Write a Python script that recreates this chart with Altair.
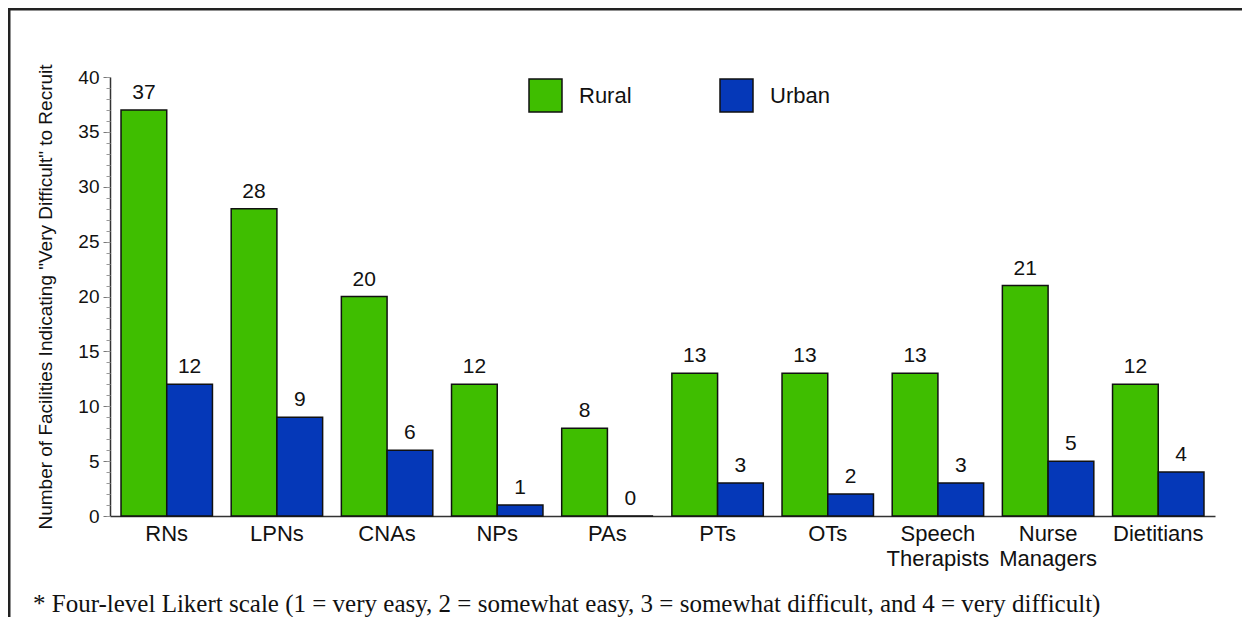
import altair as alt
import pandas as pd

categories = ["RNs", "LPNs", "CNAs", "NPs", "PAs", "PTs", "OTs",
              "Speech Therapists", "Nurse Managers", "Dietitians"]
rural = [37, 28, 20, 12, 8, 13, 13, 13, 21, 12]
urban = [12, 9, 6, 1, 0, 3, 2, 3, 5, 4]
groups = ["Rural", "Urban"]
colors = ["#3fbe00", "#0538b8"]
y_title = 'Number of Facilities Indicating "Very Difficult" to Recruit'
footnote = ("* Four-level Likert scale (1 = very easy, 2 = somewhat easy, "
            "3 = somewhat difficult, and 4 = very difficult)")

rows = []
for c, r, u in zip(categories, rural, urban):
    rows.append({"cat": c, "grp": "Rural", "value": r})
    rows.append({"cat": c, "grp": "Urban", "value": u})
df = pd.DataFrame(rows)

W, H = 1105, 439
FONT = "Liberation Sans"

x_enc = alt.X("cat:N", sort=categories, title=None,
              scale=alt.Scale(paddingInner=0.17, paddingOuter=0.1),
              axis=alt.Axis(labelExpr="split(datum.label, ' ')", labelAngle=0,
                            labelFontSize=22, labelFont=FONT, labelColor="#111",
                            labelLineHeight=25, labelPadding=7, ticks=False,
                            domainColor="#333", domainWidth=1.5))
xoff = alt.XOffset("grp:N", sort=groups)
y_scale = alt.Scale(domain=[0, 40], nice=False)

bars = alt.Chart(df).mark_bar(stroke="#111", strokeWidth=1.5).encode(
    x=x_enc, xOffset=xoff,
    y=alt.Y("value:Q", scale=y_scale, title=y_title,
            axis=alt.Axis(values=list(range(0, 41, 5)), tickSize=7,
                          tickColor="#777", domainColor="#333", domainWidth=1.5,
                          labelFontSize=19, labelFont=FONT, labelColor="#111",
                          labelPadding=4, grid=False, orient="left",
                          titleFont=FONT, titleFontSize=19, titleFontWeight="normal",
                          titleColor="#111", titleX=-65, titleY=H / 2,
                          titleAlign="center", titleBaseline="middle",
                          titleAngle=270)),
    color=alt.Color("grp:N", sort=groups, title=None,
                    scale=alt.Scale(domain=groups, range=colors),
                    legend=alt.Legend(orient="none", legendX=418, legendY=1,
                                      direction="horizontal", symbolType="square",
                                      symbolSize=1089, symbolStrokeColor="#111",
                                      symbolStrokeWidth=1.5, labelFontSize=22,
                                      labelFont=FONT, labelColor="#111",
                                      labelOffset=16, columnPadding=85, padding=0)),
)

labels = alt.Chart(df).mark_text(dy=-7, baseline="bottom", fontSize=21,
                                 font=FONT, color="#111").encode(
    x=alt.X("cat:N", sort=categories),
    xOffset=xoff,
    y=alt.Y("value:Q", scale=y_scale,
            axis=alt.Axis(values=list(range(0, 41)), tickSize=4, labels=False,
                          domain=False, title=None, tickColor="#999",
                          grid=False, orient="left")),
    text="value:Q",
)

dummy = alt.Data(values=[{}])
top_border = alt.Chart(dummy).mark_rule(color="#222", strokeWidth=3).encode(
    x=alt.value(-101), x2=alt.value(1300), y=alt.value(-68))
left_border = alt.Chart(dummy).mark_rule(color="#222", strokeWidth=3).encode(
    x=alt.value(-101), y=alt.value(-69), y2=alt.value(700))
note = alt.Chart(dummy).mark_text(align="left", baseline="alphabetic",
                                  font="Liberation Serif", fontSize=25,
                                  color="#111").encode(
    x=alt.value(-77), y=alt.value(535), text=alt.value(footnote))

chart = alt.layer(bars, labels, top_border, left_border, note).resolve_axis(
    y="independent"
).properties(
    width=W, height=H,
    background="white",
    autosize=alt.AutoSizeParams(type="none"),
    padding={"left": 102, "top": 69, "right": 27, "bottom": 101},
).configure_view(strokeWidth=1, stroke="white")

chart.save("out.html", embed_options={"renderer": "svg", "actions": False})
